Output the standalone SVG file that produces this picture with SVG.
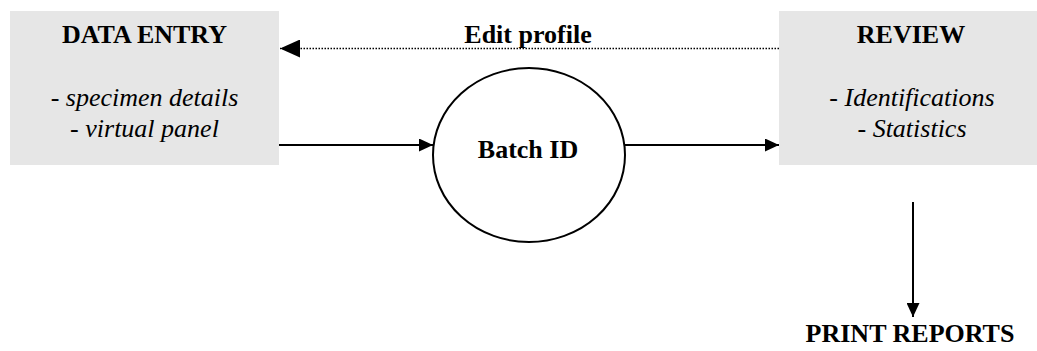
<svg xmlns="http://www.w3.org/2000/svg" width="1037" height="351" viewBox="0 0 1037 351">
  <style>
    .box { fill: #e6e6e6; stroke: none; }
    .title { font-family: "Liberation Serif", "Times New Roman", serif; font-size: 26px; font-weight: bold; fill: #000; text-anchor: middle; }
    .item { font-family: "Liberation Serif", "Times New Roman", serif; font-size: 26px; font-style: italic; fill: #000; text-anchor: middle; }
    .flow { fill: none; stroke: #000; stroke-width: 2; }
    .dotted { fill: none; stroke: #000; stroke-width: 1.5; stroke-dasharray: 1.5 1.5; }
  </style>
  <defs>
    <marker id="head" viewBox="0 0 14 13" refX="14" refY="6.5" markerWidth="14" markerHeight="13" markerUnits="userSpaceOnUse" orient="auto">
      <path d="M0,0 L14,6.5 L0,13 Z" fill="#000"/>
    </marker>
    <marker id="bighead" viewBox="0 0 20 18" refX="20" refY="9" markerWidth="20" markerHeight="18" markerUnits="userSpaceOnUse" orient="auto">
      <path d="M0,0 L20,9 L0,18 Z" fill="#000"/>
    </marker>
  </defs>

  <g id="data-entry">
    <rect class="box" x="10" y="11" width="269" height="154"/>
    <text class="title" x="144.5" y="43">DATA ENTRY</text>
    <text class="item" x="144.5" y="106">- specimen details</text>
    <text class="item" x="144.5" y="137">- virtual panel</text>
  </g>

  <g id="review">
    <rect class="box" x="779" y="11" width="268" height="154"/>
    <text class="title" x="911" y="43">REVIEW</text>
    <text class="item" x="912" y="106">- Identifications</text>
    <text class="item" x="912" y="137">- Statistics</text>
  </g>

  <g id="batch-id">
    <ellipse cx="529" cy="155" rx="96" ry="87" fill="#fff" stroke="#000" stroke-width="2"/>
    <text class="title" x="528" y="158">Batch ID</text>
  </g>

  <g id="print-reports">
    <text class="title" x="910" y="342">PRINT REPORTS</text>
  </g>

  <g id="connectors">
    <line class="flow" x1="279" y1="145" x2="433" y2="145" marker-end="url(#head)"/>
    <line class="flow" x1="625" y1="145" x2="779" y2="145" marker-end="url(#head)"/>
    <line class="flow" x1="913" y1="202" x2="913" y2="317" marker-end="url(#head)"/>
    <line class="dotted" x1="779" y1="48.5" x2="280" y2="48.5" marker-end="url(#bighead)"/>
    <text class="title" x="528" y="43">Edit profile</text>
  </g>
</svg>
